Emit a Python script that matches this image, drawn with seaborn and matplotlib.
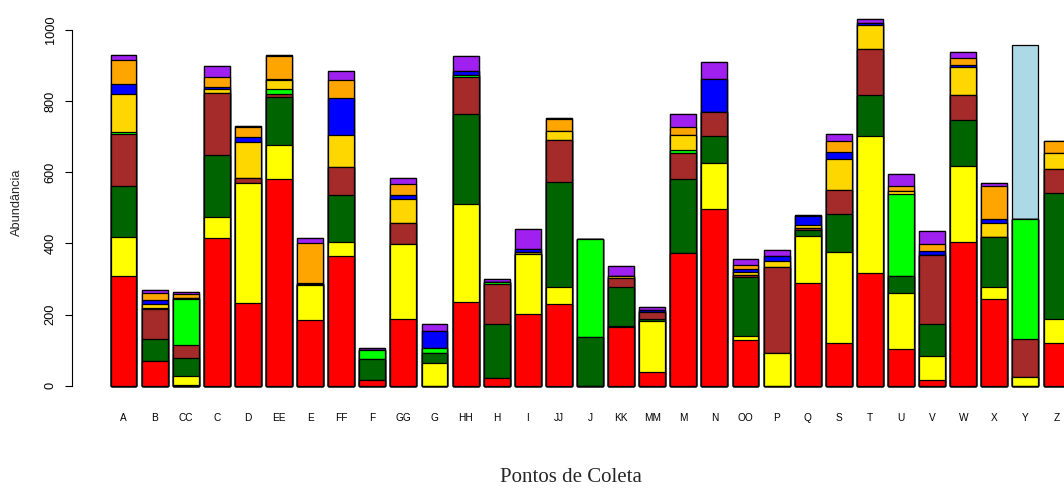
import numpy as np
import pandas as pd
import matplotlib
matplotlib.use("Agg")
import matplotlib.pyplot as plt
import seaborn as sns

sites = ["A", "B", "CC", "C", "D", "EE", "E", "FF", "F", "GG", "G", "HH", "H", "I", "JJ",
         "J", "KK", "MM", "M", "N", "OO", "P", "Q", "S", "T", "U", "V", "W", "X", "Y", "Z"]

red = [309, 69, 2, 414, 231, 582, 185, 365, 16, 187, 0, 234, 21, 201, 229,
       0, 164, 39, 372, 496, 127, 0, 290, 119, 316, 103, 16, 405, 244, 0, 119]
yellow = [110, 0, 25, 61, 338, 96, 97, 38, 0, 210, 63, 276, 0, 168, 47,
          0, 5, 143, 0, 131, 13, 91, 131, 258, 387, 157, 67, 214, 34, 25, 68]
darkgreen = [141, 61, 50, 174, 2, 135, 2, 133, 59, 0, 28, 253, 151, 0, 296,
             136, 107, 5, 209, 74, 165, 0, 17, 105, 115, 49, 90, 127, 141, 0, 354]
brown = [147, 85, 36, 173, 12, 8, 2, 80, 0, 59, 2, 104, 114, 0, 119,
         0, 26, 19, 72, 68, 6, 243, 4, 68, 129, 0, 194, 72, 0, 106, 67]
lime = [7, 4, 130, 2, 0, 14, 0, 0, 25, 0, 14, 6, 6, 0, 0,
        276, 0, 0, 9, 0, 0, 0, 0, 0, 0, 229, 0, 0, 0, 339, 0]
gold = [107, 10, 3, 9, 103, 24, 0, 88, 0, 68, 0, 0, 0, 6, 25,
        0, 6, 0, 43, 0, 9, 17, 9, 88, 67, 9, 0, 77, 39, 0, 45]
blue = [26, 13, 0, 6, 14, 4, 4, 105, 0, 12, 47, 12, 0, 8, 0,
        0, 0, 7, 0, 92, 9, 13, 26, 20, 5, 0, 13, 7, 12, 0, 0]
orange = [69, 18, 11, 28, 26, 64, 111, 50, 0, 31, 0, 0, 0, 0, 33,
          0, 0, 0, 22, 0, 10, 0, 0, 31, 0, 15, 19, 18, 90, 0, 34]
purple = [13, 8, 5, 31, 3, 2, 14, 26, 7, 18, 20, 41, 7, 57, 3,
          0, 29, 9, 37, 48, 18, 17, 2, 20, 11, 32, 35, 19, 10, 0, 2]
lightblue = [0] * 29 + [489, 0]

series = [red, yellow, darkgreen, brown, lime, gold, blue, orange, purple, lightblue]
colors = ["#FF0000", "#FFFF00", "#006400", "#A52A2A", "#00FF00", "#FFD700",
          "#0000FF", "#FFA500", "#A020F0", "#ADD8E6"]

sns.set_style("white")
plt.rcParams["font.family"] = ["Liberation Sans", "DejaVu Sans"]

W, H = 1064, 488
fig = plt.figure(figsize=(W / 100, H / 100), dpi=100)
ax = fig.add_axes([72 / W, (H - 400.3) / H, (W - 72) / W, 395.6 / H])

cum = np.cumsum(np.array(series, dtype=float), axis=0)
for k in range(len(series) - 1, -1, -1):
    df = pd.DataFrame({"site": sites, "val": cum[k]})
    sns.barplot(data=df, x="site", y="val", order=sites, color=colors[k],
                saturation=1, edgecolor="black", linewidth=0.9, width=0.833,
                errorbar=None, ax=ax)

ax.set_xlim(-1.656, 30.24)
ax.set_ylim(-41.2, 1071.2)
ax.set_xlabel("")
ax.set_ylabel("")
for s in ["top", "right", "bottom"]:
    ax.spines[s].set_visible(False)
ax.spines["left"].set_bounds(0, 1000)
ax.spines["left"].set_linewidth(0.8)
ax.spines["left"].set_color("black")

ax.set_yticks(np.arange(0, 1001, 200))
ax.set_yticklabels([str(v) for v in range(0, 1001, 200)], rotation=90, va="center")
ax.tick_params(axis="y", direction="out", length=5, width=0.8, pad=6,
               labelsize=9.2, colors="black", left=True)
ax.set_xticks(range(len(sites)))
ax.set_xticklabels(sites)
ax.tick_params(axis="x", length=0, pad=9, labelsize=7.3, colors="black")

fig.text(17 / W, 1 - 202 / H, "Abundância", rotation=90, ha="center", va="center",
         fontsize=9.2)
fig.text(571 / W, 1 / H, "Pontos de Coleta", ha="center", va="bottom",
         fontsize=15, family=["Liberation Serif", "DejaVu Serif"])

fig.savefig("out.png", dpi=100)
